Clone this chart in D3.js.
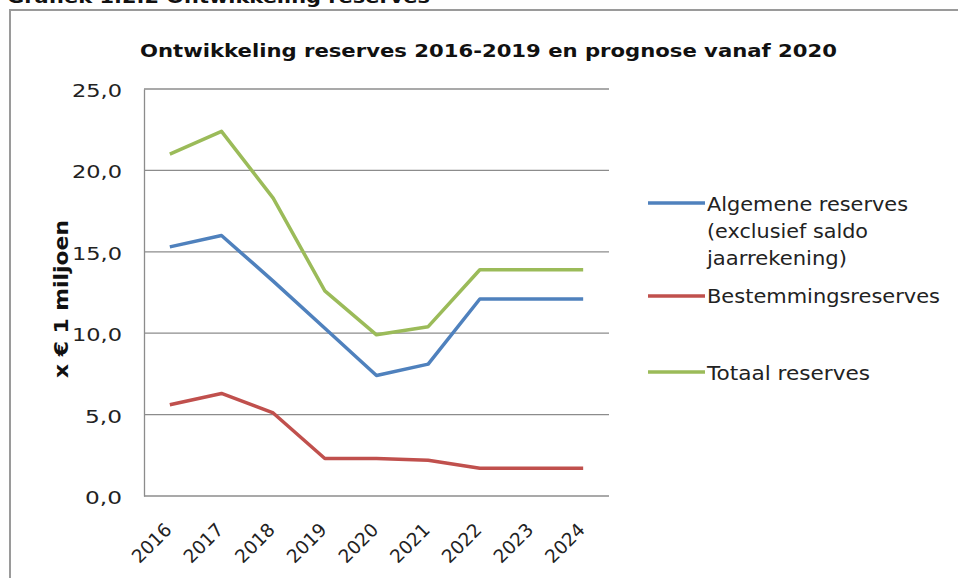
<!DOCTYPE html>
<html>
<head>
<meta charset="utf-8">
<script src="https://cdn.jsdelivr.net/npm/d3@7"></script>
<style>
  html, body { margin: 0; padding: 0; background: #fff; }
  svg { display: block; font-family: "DejaVu Sans", Verdana, sans-serif; }
</style>
</head>
<body>
<svg id="chart" width="958" height="578"></svg>
<script>
// Jaren op de x-as
const years = ["2016", "2017", "2018", "2019", "2020", "2021", "2022", "2023", "2024"];

// Reserves in miljoenen euro's
const algemeneReserves = [15.3, 16.0, 13.2, 10.3, 7.4, 8.1, 12.1, 12.1, 12.1];
const bestemmingsreserves = [5.6, 6.3, 5.1, 2.3, 2.3, 2.2, 1.7, 1.7, 1.7];
const totaalReserves = [21.0, 22.4, 18.3, 12.6, 9.9, 10.4, 13.9, 13.9, 13.9];

// Waarden op de y-as
const yTicks = [0, 5, 10, 15, 20, 25];

// Legendaregels per reeks
const seriesNames = [
  ["Algemene reserves", "(exclusief saldo", "jaarrekening)"],
  ["Bestemmingsreserves"],
  ["Totaal reserves"]
];
const seriesColors = ["#4f81bd", "#c0504d", "#9bbb59"];
const seriesValues = [algemeneReserves, bestemmingsreserves, totaalReserves];

const svg = d3.select("#chart");

// Koptekst boven het kader
svg.append("text")
  .attr("x", 7).attr("y", 3)
  .attr("font-weight", "bold").attr("font-size", 18)
  .attr("textLength", 423).attr("lengthAdjust", "spacingAndGlyphs")
  .attr("fill", "#111")
  .text("Grafiek 1.2.2 Ontwikkeling reserves");

// Kader rond de grafiek
svg.append("rect")
  .attr("x", 10).attr("y", 10)
  .attr("width", 1000).attr("height", 700)
  .attr("fill", "#fff")
  .attr("stroke", "#9a9a9a").attr("stroke-width", 2);

// Titel
svg.append("text")
  .attr("x", 140).attr("y", 57)
  .attr("font-weight", "bold").attr("font-size", 18)
  .attr("textLength", 697).attr("lengthAdjust", "spacingAndGlyphs")
  .attr("fill", "#111")
  .text("Ontwikkeling reserves 2016-2019  en prognose vanaf 2020");

const plot = { left: 144, right: 609, top: 89, bottom: 496 };

const x = d3.scaleBand().domain(years).range([plot.left, plot.right]);
const y = d3.scaleLinear().domain([0, 25]).range([plot.bottom, plot.top]);
const cx = d => x(d) + x.bandwidth() / 2;

// Rasterlijnen
svg.append("g")
  .selectAll("line")
  .data(yTicks)
  .join("line")
  .attr("x1", plot.left).attr("x2", plot.right)
  .attr("y1", d => y(d)).attr("y2", d => y(d))
  .attr("stroke", "#8c8c8c").attr("stroke-width", 1.3);

// y-as met labels
const yAxis = svg.append("g")
  .attr("transform", `translate(${plot.left},0)`)
  .call(d3.axisLeft(y).tickValues(yTicks).tickSize(0).tickPadding(22)
    .tickFormat(d => d3.format(".1f")(d).replace(".", ",")));
yAxis.select(".domain").attr("stroke", "#8c8c8c").attr("stroke-width", 1.3);
yAxis.selectAll("text")
  .attr("font-family", "DejaVu Sans, Verdana, sans-serif")
  .attr("font-size", 18).attr("fill", "#222")
  .attr("dy", "0.42em")
  .attr("textLength", d => d >= 10 ? 50 : 37)
  .attr("lengthAdjust", "spacingAndGlyphs");

// x-as labels, schuin
svg.append("g")
  .selectAll("text")
  .data(years)
  .join("text")
  .attr("transform", d => `translate(${cx(d) + 3},531) rotate(-45)`)
  .attr("text-anchor", "end")
  .attr("font-size", 18.5).attr("fill", "#222")
  .text(d => d);

// y-as titel
svg.append("text")
  .attr("transform", "translate(68,299) rotate(-90)")
  .attr("text-anchor", "middle")
  .attr("font-weight", "bold").attr("font-size", 19)
  .attr("textLength", 158).attr("lengthAdjust", "spacingAndGlyphs")
  .attr("fill", "#111")
  .text("x € 1 miljoen");

// Lijnen
const line = d3.line().x((d, i) => cx(years[i])).y(d => y(d));
svg.append("g")
  .selectAll("path")
  .data(seriesValues)
  .join("path")
  .attr("d", d => line(d))
  .attr("fill", "none")
  .attr("stroke", (d, i) => seriesColors[i])
  .attr("stroke-width", 3.5)
  .attr("stroke-linejoin", "round");

// Legenda
const legendRows = [
  { lineY: 203, baselines: [211, 238, 265], widths: [201, 161, 140] },
  { lineY: 296, baselines: [303], widths: [233] },
  { lineY: 372, baselines: [380], widths: [163] }
];
const legend = svg.append("g");
legendRows.forEach((row, i) => {
  legend.append("line")
    .attr("x1", 648).attr("x2", 705)
    .attr("y1", row.lineY).attr("y2", row.lineY)
    .attr("stroke", seriesColors[i]).attr("stroke-width", 3.5);
  seriesNames[i].forEach((t, j) => {
    legend.append("text")
      .attr("x", 707).attr("y", row.baselines[j])
      .attr("font-size", 19).attr("fill", "#222")
      .attr("textLength", row.widths[j]).attr("lengthAdjust", "spacingAndGlyphs")
      .text(t);
  });
});
</script>
</body>
</html>
